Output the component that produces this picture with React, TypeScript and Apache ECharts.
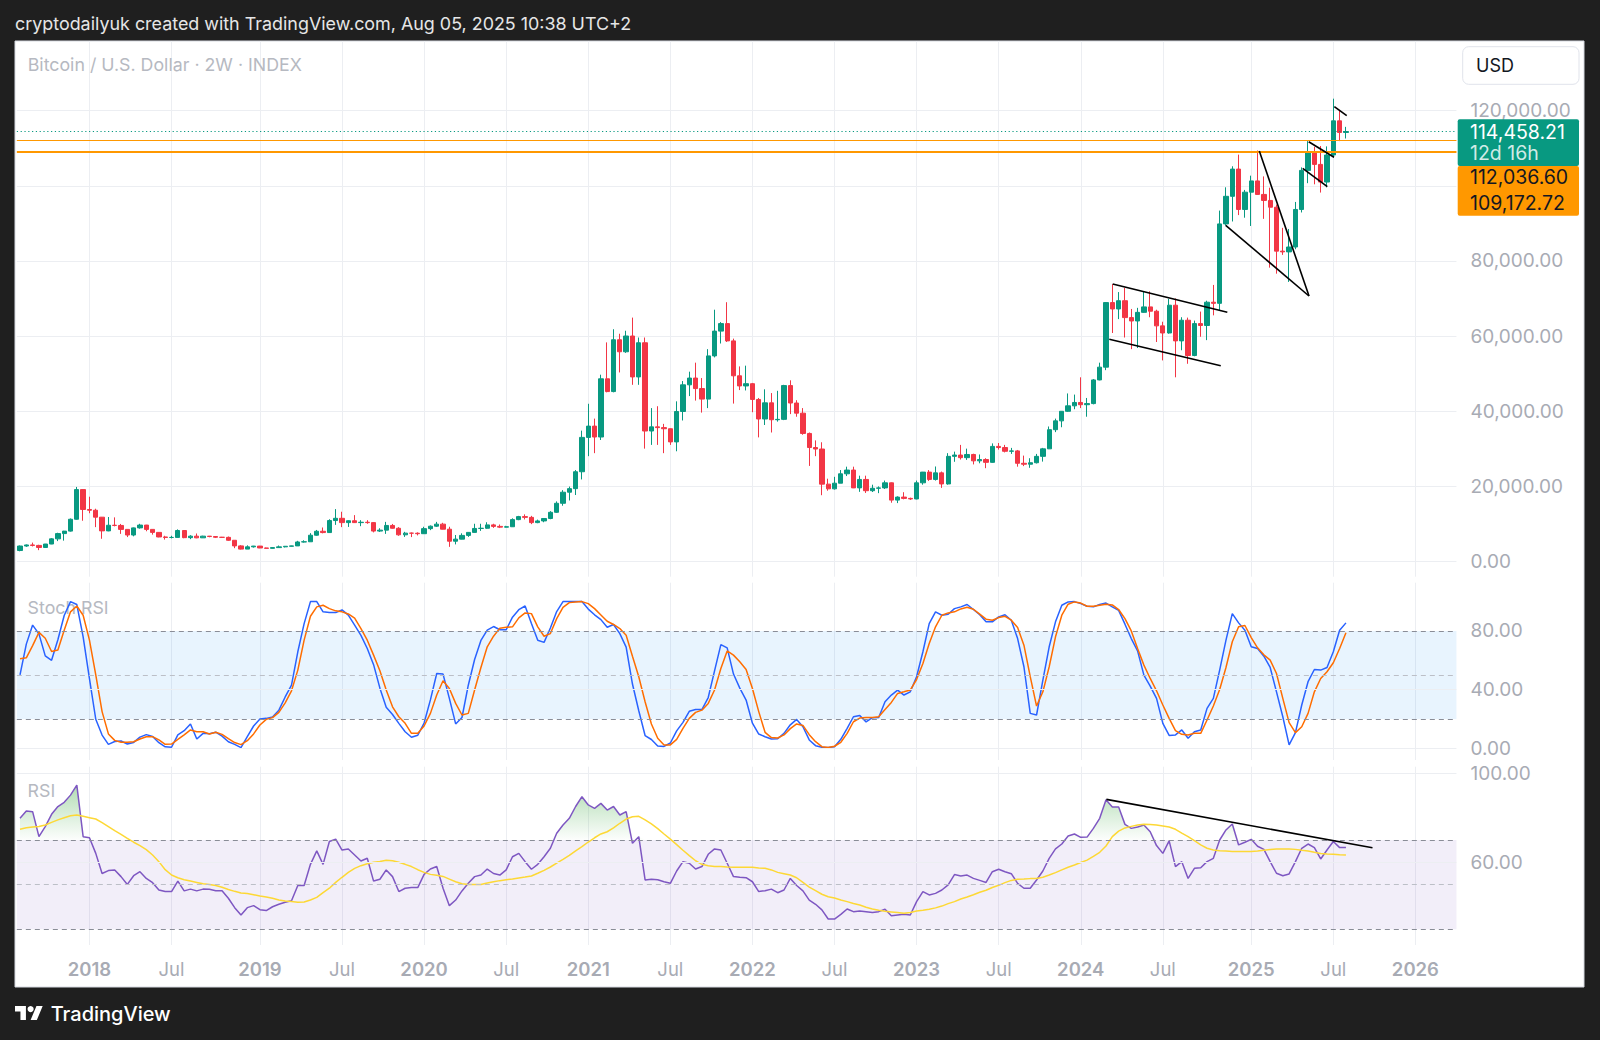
import React, { useEffect, useRef } from 'react';
import * as echarts from 'echarts';

// ---------------- DATA ----------------
// 2-week bars, BTCUSD INDEX, first bar 2017-07-31, last bar 2025-08-04
const opens = [
  2870,4070,4350,4230,3680,4600,5980,7380,8040,11200,
  19100,13800,13600,11750,8100,9600,9550,8500,7000,8900,
  9650,8500,7700,6480,6350,6360,8200,6300,6700,6250,
  6700,6600,6400,6380,5600,4100,3250,3850,4050,3550,
  3450,3650,3850,4000,4100,5150,5200,6950,8000,7650,
  10850,11450,10300,10800,10300,10400,10300,8050,8300,9550,
  8800,7050,7500,7480,7350,8700,9350,9900,8550,5350,
  5900,6900,7700,8750,8800,9700,9300,9100,9200,11100,
  11900,11700,10300,10750,11400,13050,15450,18400,19350,23850,
  33000,36000,33100,48600,45200,59000,55800,60000,49100,58200,
  34700,35800,35600,35300,31800,39900,47000,48800,46000,43200,
  54700,61300,63300,58700,49400,46700,47300,43100,37900,42200,
  37700,37800,46800,42150,39450,34050,30300,29900,20550,19300,
  20800,23300,24300,19550,21800,18800,19450,19550,20900,16300,
  17100,16750,16600,20900,23750,21800,23550,20600,27950,28300,
  27600,28450,26750,27100,26350,30600,30300,29300,29400,26100,
  25850,26250,27950,29950,35050,37400,39950,41400,42300,41700,
  42000,48300,51700,68900,67200,69400,64900,64000,66300,67750,
  66600,62700,60800,68200,58700,64200,54800,63300,62800,69000,
  68700,89850,97200,104450,93700,98300,101300,97700,96100,94300,
  82600,82400,83700,93700,104100,109000,105700,101000,108200,117300,
  114200,
];
const highs = [
  4200,4480,4980,4400,4620,6180,7600,8100,11400,19800,
  19200,17200,14000,11800,11800,11700,9950,8500,9000,9990,
  9700,8550,7750,6800,6800,8500,8250,6950,7400,6800,
  6750,6700,6500,6600,5600,4300,4250,4100,4100,3650,
  3700,4200,4000,4150,5450,5600,7500,8350,9000,11200,
  13900,13200,10900,12300,10950,10950,10400,8800,10500,9950,
  9100,7850,7650,7700,9200,9550,10500,10250,9200,7000,
  7450,7800,10000,10000,10400,10000,9800,9450,11450,12100,
  12500,12100,11100,11450,13350,15950,18950,19900,24300,34800,
  41950,38000,49700,58300,61800,60600,61400,64900,59600,59600,
  40800,41300,36600,35400,42600,48000,50500,52900,48800,56500,
  67000,63700,69000,59300,51900,52100,47500,43500,45800,44800,
  45400,47000,48200,42900,40800,34300,32200,31700,22000,22500,
  24300,25200,25200,22800,22800,20400,19950,21500,21000,17300,
  18400,16950,21500,23800,24300,25250,23900,28800,29200,31000,
  30000,28650,28450,27450,31400,31500,31000,30200,29650,28150,
  27450,28600,30200,35900,38000,40000,44700,44400,49000,43500,
  48550,52900,69000,73800,71700,72800,67200,67500,71900,71900,
  67000,63800,69900,70000,65000,64900,64100,66500,69400,73600,
  93400,99600,105200,108300,98900,102700,109400,102500,99500,95000,
  88800,88500,95700,104900,111900,110400,110600,110500,123200,120200,
  115700,
];
const lows = [
  2670,3850,3950,2970,3640,4560,5380,5500,7900,11100,
  10800,12800,9100,6000,8000,9300,7300,6450,6650,8700,
  8000,7100,6400,5780,6100,6350,6150,5900,6150,6200,
  6400,6200,6300,5450,3500,3150,3250,3650,3500,3400,
  3400,3650,3700,3950,4100,5000,5200,6800,7450,7550,
  9700,9100,9150,10500,9350,10000,7700,7800,7300,8700,
  6800,6500,6450,6900,7350,8300,9150,8500,3850,4500,
  5850,6500,7650,8100,8650,8900,8850,9050,9150,10950,
  11150,9900,10150,10400,11200,12900,14800,16200,17650,21800,
  28000,28800,32300,45000,45000,50300,55500,47000,47000,30000,
  31000,31000,28800,31000,29300,37500,44000,42800,39600,40800,
  54300,58000,58400,42000,45600,45500,39700,33000,36300,34300,
  37200,37600,39200,38500,33700,25400,28000,17600,18800,19100,
  20800,22700,19500,18500,18200,18450,18150,19250,15600,15500,
  16500,16350,16500,20400,21400,21500,19550,20400,26500,27100,
  27000,25800,26100,24800,26250,29750,29000,28600,25200,25350,
  24900,26050,26550,29900,34400,35700,39800,40500,40800,38500,
  41800,48200,50900,60800,64500,59600,56500,56800,66200,65000,
  58400,53500,60600,49000,56200,52600,54600,59800,58900,65500,
  66800,89400,90500,92200,91500,89300,97800,91200,78200,76600,
  81600,74400,83100,92900,100700,100400,98200,99600,107500,111900,
  112600,
];
const closes = [
  4070,4350,4230,3680,4600,5980,7380,8040,11200,19100,
  13800,13600,11750,8100,9600,9550,8500,7000,8900,9650,
  8500,7700,6480,6350,6360,8200,6300,6700,6250,6700,
  6600,6400,6380,5600,4100,3250,3850,4050,3550,3450,
  3650,3850,4000,4100,5150,5200,6950,8000,7650,10850,
  11450,10300,10800,10300,10400,10300,8050,8300,9550,8800,
  7050,7500,7480,7350,8700,9350,9900,8550,5350,5900,
  6900,7700,8750,8800,9700,9300,9100,9200,11100,11900,
  11700,10300,10750,11400,13050,15450,18400,19350,23850,33000,
  36000,33100,48600,45200,59000,55800,60000,49100,58200,34700,
  35800,35600,35300,31800,39900,47000,48800,46000,43200,54700,
  61300,63300,58700,49400,46700,47300,43100,37900,42200,37700,
  37800,46800,42150,39450,34050,30300,29900,20550,19300,20800,
  23300,24300,19550,21800,18800,19450,19550,20900,16300,17100,
  16750,16600,20900,23750,21800,23550,20600,27950,28300,27600,
  28450,26750,27100,26350,30600,30300,29300,29400,26100,25850,
  26250,27950,29950,35050,37400,39950,41400,42300,41700,42000,
  48300,51700,68900,67200,69400,64900,64000,66300,67750,66600,
  62700,60800,68200,58700,64200,54800,63300,62800,69000,68700,
  89850,97200,104450,93700,98300,101300,97700,96100,94300,82600,
  82400,83700,93700,104100,109000,105700,101000,108200,117300,114200,
  114458.21,
];

const stochK = [
  50,71,84,78,63,60,74,90.5,100,98,
  76,47.5,19.8,9,2.7,4.6,5,2.9,4,7.6,
  9.3,8,3.8,1,0.7,9.2,12,16.6,6.3,10.2,
  9.9,11,8.3,4.5,2.7,0.5,7.9,15.2,20,20.4,
  21.3,26,35,43,65.8,85,100,100,93,92.5,
  92.5,94.3,90.8,84,77,68,57,41,28,23,
  17,11.3,7.5,8.9,17.2,33,51,50.6,34,16.6,
  21,43,60.5,73.5,80.6,83,80.8,80.8,89.4,94.5,
  97,85,73.6,72.2,82,93.2,100,100,100,100,
  94.9,91,87.7,82.5,84.4,78.2,69,43.8,25.6,8.7,
  6,1.6,1.3,3.6,11.9,17.7,25.2,26.4,26.4,34.6,
  52.8,70.7,68.5,50.6,41,32.9,17.1,9.7,7.9,6.3,
  6.5,10.2,16,19.7,14.7,5.7,1.8,0.7,0.5,1.1,
  6.1,13.6,21.5,22.4,18,20.9,21,31.7,36.3,39.7,
  36.3,38.5,48.8,65.8,85,93,90.7,91.4,95.2,96.4,
  98,94.6,91,86.2,86.2,89.6,91,87.3,74.8,55.6,
  23.8,22.7,46.5,69.2,86.2,97.5,99.8,100,98.6,96.8,
  96.4,98,99,96.4,94,84.6,74.8,66.4,49.9,42.4,
  34,17,8.8,9.1,12.5,6.8,11.3,12.5,27.2,34,
  53.3,73.7,91.8,85.5,80.5,69.2,68,62.8,55.1,38.5,
  21.5,2.3,10.7,29.5,45.4,53.7,53.3,55.1,65.8,80.5,
  85.5,
];
const stochD = [
  61,61.7,70,79,75,66,67,80.5,93,97,
  90.7,73.7,50,25,9.8,5.4,4.1,4.1,4.5,6.3,
  7.9,7.9,5.7,2.7,2.9,6.1,9.1,12.5,11.3,11.3,
  9.8,10.9,9.5,6.6,3.9,2.5,5.2,9.8,15.9,19.7,
  20.9,24.5,31,39.2,53.3,73.7,90,96.4,97.5,95.2,
  93.7,93,91.6,88.7,81.6,73.7,63.5,52.8,39.7,28.3,
  21.5,17,10.2,10.2,15.2,23.8,36.3,46,40.8,30.6,
  22.7,23.8,39.7,55.1,69.2,76.4,81.9,82.5,82.8,88.9,
  92.3,91.8,82.8,76.4,78.2,88.4,96,99.3,99.8,100,
  98.6,95.2,90.9,86.6,84.4,81.6,77,62.8,48.8,31.7,
  16.6,6.8,2.3,2.3,6.1,13.6,20.4,24.5,26,30.6,
  39.7,54.4,66.4,63.5,59,53.7,40.8,25,10.9,7.3,
  7,9.1,13.4,16.6,15.6,9.3,4.5,1.1,0.5,1.4,
  4.1,10.2,18.1,20.6,21,21,21.5,26.5,31.3,37.4,
  38.5,39.7,46.9,57.8,71.4,82.8,90.7,92.3,93,95,
  96.1,94.8,91.4,88,87.3,89.1,90,87.3,82.3,70.3,
  48.8,28.8,38.5,55.6,76,90.7,98.2,99.8,99,96.8,
  96.8,97.5,98.2,97.7,94.6,88.4,80,68,56.7,47.6,
  39.2,29.5,20.4,12,9.5,9.1,10.2,10.2,19.3,28.8,
  40.1,55.1,72.6,82.8,83.7,75.5,68.5,63.7,60.1,51,
  34,17.5,10.7,14.7,23.8,38.5,47.6,52.2,58.3,68,
  78.7,
];
const rsi = [
  79.7,83,82.7,71.5,76,81.5,85,86.9,90.1,94.6,
  71.5,71,64,55,56.3,56.6,53.6,50.1,54,55.8,
  52.8,50.9,47.6,46.9,46.9,51.6,47.2,48,47.2,48,
  47.9,47.3,47.3,43.9,39.7,36.4,39.7,40.6,38.8,38.4,
  40.1,41.2,42.1,42.8,49.6,49.6,59.1,65.1,59.1,69.3,
  70.4,65.5,66,63.3,60.6,61.8,51.6,52.4,56.6,53.6,
  46.9,48.4,48.7,48.7,54.6,57,58.1,48.4,40.6,43.1,
  47.2,50.6,53.6,54.3,57,55,54.3,56.6,62.5,64,
  60.3,56.9,59.1,62.5,66.3,73,76.7,79.7,85,89.4,
  85.7,84.2,86.4,83.4,85,81.2,82.7,68.5,71.5,52.1,
  52.4,52.2,51.3,50.6,56.1,60.3,59.6,57,58.1,63.6,
  66,65.5,59.6,53.6,53.3,53.1,51.3,46.9,47.3,48,
  46.4,47.6,52.8,49.6,47.2,43.1,41.2,38.7,34.6,34.6,
  36.7,39.1,37.9,38.2,37.9,37.5,37.9,39,36.1,36.4,
  36.7,36.4,42.4,46.9,45.4,46.1,47.6,49.9,54.5,53.9,
  54.3,52.8,51.9,51,55.8,56.9,55.8,54.9,50.6,48.4,
  48.4,52.1,56.1,61.8,66,68.2,71.8,72.7,71.2,71.3,
  75.2,79.7,88,84.8,84.8,77,75.2,75.8,76.7,73.7,
  67.5,64,69.6,58.1,60.3,52.8,57.3,57.6,60.3,61.8,
  70,74.5,77.2,67.8,69,70.3,67.2,65.8,60.3,55.1,
  54,54.8,60.3,66.3,68.2,66.6,61.5,65.5,69.3,66.6,
  66.6,
];
const rsiMA = [
  74.8,75.5,75.8,76,76.7,77.9,79,80,80.9,81.2,
  80.6,80,79.4,77.8,76,74.2,72.5,70.7,69,67.5,
  65.7,63.3,60.3,56.7,54.3,53.1,52.2,51.6,51,50.4,
  50.1,49.6,48.8,47.8,47,46.3,46,45.5,44.9,44.5,
  43.9,43.1,42.7,42.4,42.1,42.2,43.1,44.3,46.4,48.4,
  51,53.3,55.5,57.3,58.5,59.4,60,60.4,60.9,60.7,
  60,59.1,58.1,56.7,55.5,54.6,54.2,53.7,52.5,51.3,
  50.4,50.1,50.1,50.1,50.7,51.3,51.8,52.2,52.5,53,
  53.4,53.9,55.1,56.4,57.9,59.6,61.3,63.1,65.1,67,
  69.1,71,72.7,73.7,75.4,77.5,79.4,80.4,80.6,79,
  77.2,75.1,72.7,70.4,67.9,65.4,63,60.7,59.1,58.5,
  58.1,58.1,57.9,57.8,57.8,57.8,57.8,57.5,57.3,56.6,
  55.5,54.9,54.3,53.1,51,48.9,47.3,45.7,44.6,44,
  43.1,42.4,41.6,40.9,39.9,39.1,38.5,38.1,37.8,37.5,
  37.2,37.5,38.2,38.5,39,39.6,40.4,41.5,42.4,43.6,
  44.5,45.5,46.6,47.5,48.7,49.7,50.9,51.9,52.4,52.5,
  52.7,52.8,53.3,54.3,55.4,56.6,57.8,58.8,59.9,61,
  62.7,64.5,67.3,71.5,74,75.4,76.1,76.7,77,76.9,
  76.7,76.3,75.8,74.8,73.1,71.5,69.7,67.8,66.3,65.5,
  65.2,65.1,64.8,64.8,64.8,64.9,65.1,65.4,65.7,66,
  66,66,65.8,65.4,65.1,64.5,64,63.7,63.6,63.4,
  63.3,
];

// gridlines of the price pane, and the price labels that stay visible (100,000 sits under the price boxes)
const priceTicks = [0, 20000, 40000, 60000, 80000, 100000, 120000];
const priceLabelTicks = [0, 20000, 40000, 60000, 80000, 120000];
const stochTicks = [0, 40, 80];
const rsiTicks = [60, 100];
const lastPrice = 114458.21;
const countdown = '12d 16h';
const levels = [112036.6, 109172.72];
// drawn trend lines: [barIndex, price] pairs
const priceTrendLines = [
  [[173.06, 73848], [191.21, 66312]],
  [[172.52, 59121], [190.17, 52091]],
  [[196.28, 109268], [204.15, 70652]],
  [[190.96, 89481], [204.15, 70652]],
  [[204.1, 111744], [208.11, 107590]],
  [[203.15, 104660], [207.05, 99760]],
  [[208.16, 121065], [210.12, 118668]],
];
const rsiTrendLine = [[172.06, 88.2], [214.2, 66.55]];

const headerText = 'cryptodailyuk created with TradingView.com, Aug 05, 2025 10:38 UTC+2';
const titleText = 'Bitcoin / U.S. Dollar · 2W · INDEX';

// ---------------- helpers ----------------
const N_CATS = 228;
function buildCategories(): string[] {
  const firstMonday = (y: number) => {
    const dow = new Date(Date.UTC(y, 0, 1)).getUTCDay();
    return Date.UTC(y, 0, 1 + ((8 - dow) % 7));
  };
  const start = Date.UTC(2017, 6, 31);
  const out: string[] = [];
  for (let y = 2017; out.length < N_CATS; y++) {
    const end = firstMonday(y + 1);
    for (let t = firstMonday(y); t < end && out.length < N_CATS; t += 14 * 86400000) {
      if (t >= start) out.push(new Date(t).toISOString().slice(0, 10));
    }
  }
  return out;
}
const cats = buildCategories();
const labelIdx = new Set<number>();
cats.forEach((c, i) => {
  if (i === 0) return;
  const y = +c.slice(0, 4), m = +c.slice(5, 7);
  const py = +cats[i - 1].slice(0, 4), pm = +cats[i - 1].slice(5, 7);
  if (y !== py) labelIdx.add(i);
  else if (m >= 7 && pm < 7) labelIdx.add(i);
});
const isLabel = (i: number) => labelIdx.has(i);

const fmt2 = (v: number) => v.toLocaleString('en-US', { minimumFractionDigits: 2, maximumFractionDigits: 2 });

try {
  echarts.graphic.registerShape(
    'tvlogo',
    echarts.graphic.extendPath('M14 22H7V11H0V4h14v18zM28 22h-8l7.5-18h8L28 22z', {}) as any
  );
} catch (e) { /* ignore */ }

const FONT = 'Inter';
const GRID_L = 16.84;
const GRID_W = 1439.6;
const gridColor = '#eceef2';
const axisText = '#a8abb4';
const UP = '#089981';
const DOWN = '#f23645';

function catAxis(gridIndex: number, showLabels: boolean) {
  return {
    type: 'category',
    gridIndex,
    data: cats,
    boundaryGap: true,
    axisLine: { show: false },
    axisTick: { show: false },
    axisPointer: { show: false },
    axisLabel: showLabels
      ? {
          show: true,
          interval: isLabel,
          margin: 14,
          formatter: (v: string) => (v.slice(5, 7) === '01' ? `{y|${v.slice(0, 4)}}` : '{m|Jul}'),
          rich: {
            y: { fontFamily: FONT, fontSize: 18.5, fontWeight: 600, color: axisText },
            m: { fontFamily: FONT, fontSize: 18.5, fontWeight: 400, color: axisText },
          },
        }
      : { show: false },
    splitLine: { show: true, interval: isLabel, alignWithLabel: true, lineStyle: { color: gridColor, width: 1 } },
  };
}
function valAxisX(gridIndex: number) {
  return { type: 'value', gridIndex, min: -0.5, max: N_CATS - 0.5, show: false };
}
function yAx(gridIndex: number, min: number, max: number, ticks: number[]) {
  return {
    type: 'value',
    gridIndex,
    position: 'right',
    min,
    max,
    scale: true,
    axisLine: { show: false },
    axisTick: { show: false },
    splitLine: { show: false },
    axisLabel: {
      show: true,
      customValues: ticks,
      margin: 14,
      color: axisText,
      fontFamily: FONT,
      fontSize: 19,
      formatter: (v: number) => fmt2(v),
    },
  };
}
const hLine = (v: number, color: string, type: any, width = 1) => ({ yAxis: v, lineStyle: { color, type, width } });
const mlBase = { silent: true, symbol: ['none', 'none'], label: { show: false }, emphasis: { disabled: true } };

export default function App() {
  const ref = useRef<HTMLDivElement>(null);
  useEffect(() => {
    if (!ref.current) return;
    const chart = echarts.init(ref.current, null, { renderer: 'svg' });
    const candleData = opens.map((o, i) => [o, closes[i], lows[i], highs[i]]);
    const obData = rsi.map((v) => Math.max(v, 70));

    const trendSeries = priceTrendLines.map((pts) => ({
      type: 'line',
      xAxisIndex: 3,
      yAxisIndex: 0,
      data: pts,
      showSymbol: false,
      symbol: 'none',
      silent: true,
      z: 6,
      lineStyle: { color: '#000000', width: 1.6 },
    }));

    const option: any = {
      animation: false,
      backgroundColor: '#1f1f1f',
      textStyle: { fontFamily: FONT },
      grid: [
        { left: GRID_L, width: GRID_W, top: 41, height: 535.7, outerBoundsMode: 'none' },
        { left: GRID_L, width: GRID_W, top: 582.7, height: 177.3, outerBoundsMode: 'none' },
        { left: GRID_L, width: GRID_W, top: 766.7, height: 178.3, outerBoundsMode: 'none' },
      ],
      xAxis: [catAxis(0, false), catAxis(1, false), catAxis(2, true), valAxisX(0), valAxisX(2)],
      yAxis: [
        yAx(0, -4101, 138562, priceLabelTicks),
        yAx(1, -7.98, 112.88, stochTicks),
        yAx(2, 22.97, 102.83, rsiTicks),
      ],
      series: [
        {
          type: 'line',
          name: 'priceGrid',
          xAxisIndex: 0,
          yAxisIndex: 0,
          data: [],
          silent: true,
          markLine: { ...mlBase, z: 1, data: priceTicks.map((v) => hLine(v, gridColor, 'solid')) },
        },
        {
          type: 'candlestick',
          name: 'BTCUSD',
          xAxisIndex: 0,
          yAxisIndex: 0,
          data: candleData,
          barWidth: 4.8,
          itemStyle: { color: UP, color0: DOWN, borderColor: UP, borderColor0: DOWN, borderWidth: 1 },
          markLine: {
            ...mlBase,
            data: [
              hLine(lastPrice, UP, [1.2, 2.6], 1),
              hLine(levels[0], '#ff9800', 'solid', 1.2),
              hLine(levels[1], '#ff9800', 'solid', 2.2),
            ],
          },
        },
        ...trendSeries,
        {
          type: 'line',
          name: 'K',
          xAxisIndex: 1,
          yAxisIndex: 1,
          data: stochK,
          showSymbol: false,
          symbol: 'none',
          z: 3,
          lineStyle: { color: '#2962ff', width: 1.5 },
          markArea: { silent: true, itemStyle: { color: 'rgba(33,150,243,0.1)' }, data: [[{ yAxis: 20 }, { yAxis: 80 }]] },
          markLine: {
            ...mlBase,
            data: [
              hLine(0, gridColor, 'solid'),
              hLine(40, gridColor, 'solid'),
              hLine(80, '#8a8d97', [5, 4]),
              hLine(50, '#bcbfc7', [5, 4]),
              hLine(20, '#8a8d97', [5, 4]),
            ],
          },
        },
        {
          type: 'line',
          name: 'D',
          xAxisIndex: 1,
          yAxisIndex: 1,
          data: stochD,
          showSymbol: false,
          symbol: 'none',
          z: 3,
          lineStyle: { color: '#ff6d00', width: 1.5 },
        },
        {
          type: 'line',
          name: 'overbought',
          xAxisIndex: 2,
          yAxisIndex: 2,
          data: obData,
          showSymbol: false,
          symbol: 'none',
          silent: true,
          z: 2,
          lineStyle: { opacity: 0, width: 0 },
          areaStyle: {
            origin: 70,
            color: {
              type: 'linear',
              x: 0,
              y: 773,
              x2: 0,
              y2: 840,
              global: true,
              colorStops: [
                { offset: 0, color: 'rgba(76,175,80,0.75)' },
                { offset: 1, color: 'rgba(76,175,80,0.02)' },
              ],
            },
          },
        },
        {
          type: 'line',
          name: 'RSI',
          xAxisIndex: 2,
          yAxisIndex: 2,
          data: rsi,
          showSymbol: false,
          symbol: 'none',
          z: 3,
          lineStyle: { color: '#7e57c2', width: 1.5 },
          markArea: { silent: true, itemStyle: { color: 'rgba(126,87,194,0.1)' }, data: [[{ yAxis: 30 }, { yAxis: 70 }]] },
          markLine: {
            ...mlBase,
            data: [
              ...rsiTicks.map((v) => hLine(v, gridColor, 'solid')),
              hLine(70, '#8a8d97', [5, 4]),
              hLine(50, '#bcbfc7', [5, 4]),
              hLine(30, '#8a8d97', [5, 4]),
            ],
          },
        },
        {
          type: 'line',
          name: 'RSI MA',
          xAxisIndex: 2,
          yAxisIndex: 2,
          data: rsiMA,
          showSymbol: false,
          symbol: 'none',
          z: 3,
          lineStyle: { color: '#fdd835', width: 1.5 },
        },
        {
          type: 'line',
          name: 'RSI trend',
          xAxisIndex: 4,
          yAxisIndex: 2,
          data: rsiTrendLine,
          showSymbol: false,
          symbol: 'none',
          silent: true,
          z: 6,
          lineStyle: { color: '#000000', width: 1.6 },
        },
      ],
    };
    chart.setOption(option);

    const yLast = chart.convertToPixel({ yAxisIndex: 0 }, lastPrice) as number;
    const bx = 1457.7;
    const bw = 121.3;
    const tTop = yLast - 12.2;
    const tH = 46.7;
    const oTop = tTop + tH;
    const oH = 49.7;
    const txt = (x: number, y: number, text: string, fill: string, font: string, z = 20) => ({
      type: 'text',
      x,
      y,
      z,
      silent: true,
      style: { text, fill, font, textAlign: 'left', textVerticalAlign: 'middle' },
    });
    chart.setOption({
      graphic: [
        {
          type: 'rect',
          z: -10,
          silent: true,
          shape: { x: 15, y: 41, width: 1569, height: 946 },
          style: { fill: '#ffffff', stroke: '#d6d9e0', lineWidth: 1 },
        },
        txt(15, 23, headerText, '#e6e6e6', `17.9px ${FONT}`),
        txt(27.7, 64.3, titleText, '#b6b9c1', `17.8px ${FONT}`, 1),
        txt(27.6, 607.3, 'Stoch RSI', '#b6b9c1', `17.8px ${FONT}`, 1),
        txt(27.6, 790, 'RSI', '#b6b9c1', `17.8px ${FONT}`, 1),
        {
          type: 'rect',
          z: 20,
          silent: true,
          shape: { x: 1462.7, y: 46.7, width: 116.3, height: 37.6, r: 6 },
          style: { fill: '#ffffff', stroke: '#e0e3eb', lineWidth: 1 },
        },
        txt(1476, 65.5, 'USD', '#131722', `18px ${FONT}`),
        {
          type: 'rect',
          z: 20,
          silent: true,
          shape: { x: bx, y: tTop, width: bw, height: tH, r: 2 },
          style: { fill: UP },
        },
        txt(1470, yLast, fmt2(lastPrice), '#ffffff', `19.5px ${FONT}`, 21),
        txt(1470, yLast + 21, countdown, 'rgba(255,255,255,0.82)', `19.5px ${FONT}`, 21),
        {
          type: 'rect',
          z: 20,
          silent: true,
          shape: { x: bx, y: oTop, width: bw, height: oH, r: 2 },
          style: { fill: '#ff9800' },
        },
        txt(1470, oTop + 11.3, fmt2(levels[0]), '#131722', `19.5px ${FONT}`, 21),
        txt(1470, oTop + 37.3, fmt2(levels[1]), '#131722', `19.5px ${FONT}`, 21),
        {
          type: 'tvlogo',
          x: 15,
          y: 1002.9,
          scaleX: 0.78,
          scaleY: 0.78,
          z: 20,
          silent: true,
          style: { fill: '#ffffff' },
        },
        { type: 'circle', z: 20, silent: true, shape: { cx: 30.6, cy: 1009.1, r: 3.1 }, style: { fill: '#ffffff' } },
        txt(50.7, 1014, 'TradingView', '#ffffff', `500 20px ${FONT}`),
      ],
    });

    return () => chart.dispose();
  }, []);
  return <div ref={ref} style={{ position: 'absolute', left: 0, top: 0, width: 1600, height: 1040 }} />;
}
